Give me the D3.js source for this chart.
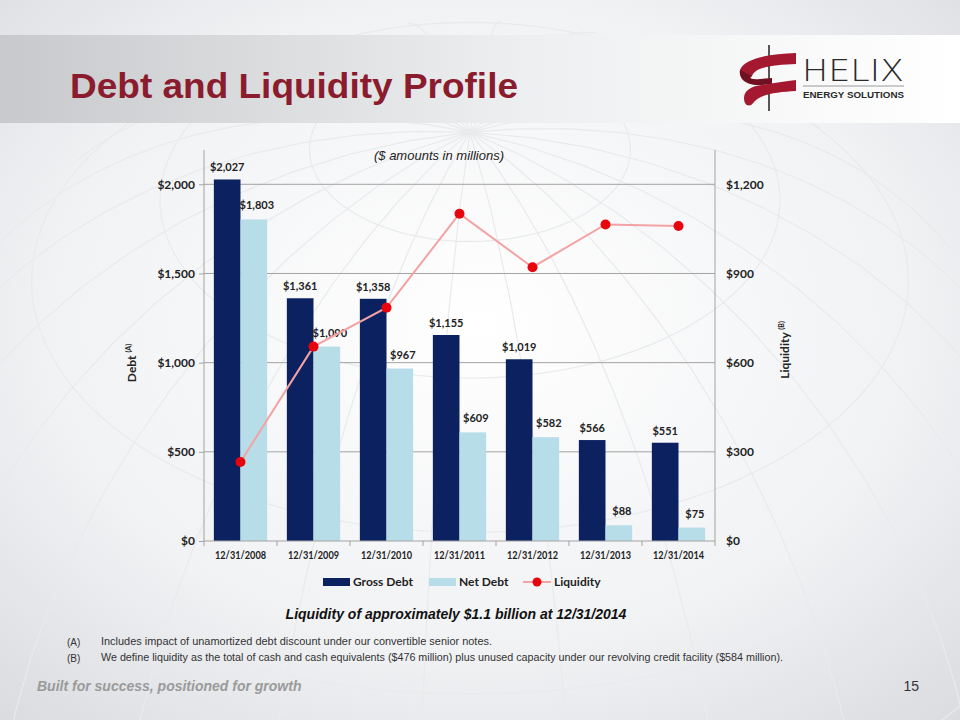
<!DOCTYPE html>
<html>
<head>
<meta charset="utf-8">
<title>Debt and Liquidity Profile</title>
<script src="https://cdn.jsdelivr.net/npm/d3@7"></script>
<style>
  body { margin: 0; background: #fff; }
  #chart { width: 960px; height: 720px; }
  .tick text { font-family: Lato, "Open Sans", sans-serif; font-weight: bold; font-size: 12px; fill: #222; }
  .barlabel { font-family: Lato, "Open Sans", sans-serif; font-weight: bold; font-size: 11px; fill: #222; }
</style>
</head>
<body>
<div id="chart"></div>
<script>
// chart data ($ millions)
var years = ["12/31/2008", "12/31/2009", "12/31/2010", "12/31/2011", "12/31/2012", "12/31/2013", "12/31/2014"];
var grossDebt = [2027, 1361, 1358, 1155, 1019, 566, 551];
var netDebt = [1803, 1090, 967, 609, 582, 88, 75];
var liquidity = [266, 654, 785, 1101, 921, 1065, 1060];
var debtTicks = [0, 500, 1000, 1500, 2000];
var liqTicks = [0, 300, 600, 900, 1200];
var seriesNames = ["Gross Debt", "Net Debt", "Liquidity"];

var W = 960, H = 720;
var svg = d3.select("#chart").append("svg").attr("width", W).attr("height", H);
var defs = svg.append("defs");

// background, faint globe
var bg = defs.append("radialGradient").attr("id", "bg").attr("cx", "50%").attr("cy", "45%").attr("r", "75%");
bg.append("stop").attr("offset", "0%").attr("stop-color", "#ffffff");
bg.append("stop").attr("offset", "60%").attr("stop-color", "#f1f2f4");
bg.append("stop").attr("offset", "100%").attr("stop-color", "#d9dbdf");
svg.append("rect").attr("width", W).attr("height", H).attr("fill", "url(#bg)");

var proj = d3.geoOrthographic().scale(620).translate([470, 640]).rotate([70, -35]);
var geoPath = d3.geoPath(proj);
svg.append("path").datum(d3.geoGraticule().step([15, 15])())
  .attr("d", geoPath).attr("fill", "none").attr("stroke", "#e9eaec").attr("stroke-width", 1.2);

// header banner
var band = defs.append("linearGradient").attr("id", "band");
band.append("stop").attr("offset", "0%").attr("stop-color", "#c8c9cc");
band.append("stop").attr("offset", "55%").attr("stop-color", "#eeeff0");
band.append("stop").attr("offset", "100%").attr("stop-color", "#ffffff");
svg.append("rect").attr("x", 0).attr("y", 35).attr("width", W).attr("height", 88).attr("fill", "url(#band)");

svg.append("text").attr("x", 70).attr("y", 98)
  .attr("font-family", "Liberation Sans, Arial, sans-serif").attr("font-weight", "bold")
  .attr("font-size", 35).attr("textLength", 448).attr("lengthAdjust", "spacingAndGlyphs")
  .attr("fill", "#8a1c2e").text("Debt and Liquidity Profile");

// logo
var logo = svg.append("g");
logo.append("line").attr("x1", 769).attr("y1", 45).attr("x2", 769).attr("y2", 111).attr("stroke", "#222").attr("stroke-width", 1.5);
// upper ribbon
logo.append("path").attr("d", "M740,70 C744,58 770,54 796,53 L796,64 C776,65 756,66 752,76 C748,80 742,78 740,70 Z").attr("fill", "#a4192f");
// curl to lower ribbon
logo.append("path").attr("d", "M740,70 C738,80 748,86 762,85 L772,84 L772,78 L760,79 C752,80 748,78 752,76 Z").attr("fill", "#6f1120");
// lower ribbon
logo.append("path").attr("d", "M762,85 C774,83 786,81 796,80 L796,91 C778,92 760,94 754,102 C750,108 744,106 744,98 C744,90 752,86 762,85 Z").attr("fill", "#a4192f");
logo.append("text").attr("x", 802).attr("y", 81)
  .attr("font-family", "DejaVu Sans, sans-serif").attr("font-weight", 200).attr("font-size", 30)
  .attr("textLength", 102).attr("lengthAdjust", "spacingAndGlyphs").attr("fill", "#2a2a2a").text("HELIX");
logo.append("line").attr("x1", 803).attr("y1", 86).attr("x2", 904).attr("y2", 86).attr("stroke", "#999").attr("stroke-width", 1.2);
logo.append("text").attr("x", 803).attr("y", 98)
  .attr("font-family", "Liberation Sans Narrow, Liberation Sans, sans-serif").attr("font-weight", "bold").attr("font-size", 9)
  .attr("textLength", 101).attr("lengthAdjust", "spacingAndGlyphs").attr("fill", "#2a2a2a").text("ENERGY SOLUTIONS");

// plot area
var x0 = 204, x1 = 715, yTop = 150, yBase = 541;
var x = d3.scaleBand().domain(years).range([x0, x1]).paddingInner(0.27).paddingOuter(0.135);
var xSub = d3.scaleBand().domain(["gross", "net"]).range([0, x.bandwidth()]);
var yL = d3.scaleLinear().domain([0, 2000]).range([yBase, 184.3]);
var yR = d3.scaleLinear().domain([0, 1200]).range([yBase, 184.3]);

// gridlines
svg.append("g").selectAll("line").data(debtTicks.slice(1)).join("line")
  .attr("x1", x0).attr("x2", x1).attr("y1", d => yL(d)).attr("y2", d => yL(d))
  .attr("stroke", "#a3a3a3").attr("stroke-width", 1);
svg.append("line").attr("x1", x0).attr("x2", x0).attr("y1", yTop).attr("y2", yBase).attr("stroke", "#a3a3a3");
svg.append("line").attr("x1", x1).attr("x2", x1).attr("y1", yTop).attr("y2", yBase).attr("stroke", "#a3a3a3");

// bars
var groups = svg.append("g").selectAll("g").data(years).join("g")
  .attr("transform", d => "translate(" + x(d) + ",0)");
groups.append("rect").attr("x", xSub("gross")).attr("width", xSub.bandwidth())
  .attr("y", (d, i) => yL(grossDebt[i])).attr("height", (d, i) => yBase - yL(grossDebt[i]))
  .attr("fill", "#0c2160");
groups.append("rect").attr("x", xSub("net")).attr("width", xSub.bandwidth())
  .attr("y", (d, i) => yL(netDebt[i])).attr("height", (d, i) => yBase - yL(netDebt[i]))
  .attr("fill", "#b6dde8");

var fmt = d3.format(",");
groups.append("text").attr("class", "barlabel").attr("text-anchor", "middle")
  .attr("x", xSub("gross") + xSub.bandwidth() / 2).attr("y", (d, i) => yL(grossDebt[i]) - 8)
  .text((d, i) => "$" + fmt(grossDebt[i]));
groups.append("text").attr("class", "barlabel").attr("text-anchor", "middle")
  .attr("x", xSub("net") + xSub.bandwidth() / 2 + 3).attr("y", (d, i) => yL(netDebt[i]) - 10)
  .text((d, i) => "$" + fmt(netDebt[i]));

// axes
var money = d => "$" + fmt(d);
var axL = svg.append("g").attr("transform", "translate(" + x0 + ",0)")
  .call(d3.axisLeft(yL).tickValues(debtTicks).tickFormat(money).tickSize(5).tickPadding(4));
var axR = svg.append("g").attr("transform", "translate(" + x1 + ",0)")
  .call(d3.axisRight(yR).tickValues(liqTicks).tickFormat(money).tickSize(5).tickPadding(6));
[axL, axR].forEach(function (a) {
  a.select(".domain").remove();
  a.selectAll(".tick line").attr("stroke", "#a3a3a3");
});
axR.selectAll(".tick line").attr("x2", 0);

var axB = svg.append("g").attr("transform", "translate(0," + yBase + ")")
  .call(d3.axisBottom(x).tickSize(0).tickPadding(9));
axB.select(".domain").attr("stroke", "#a3a3a3").attr("d", "M" + x0 + ",0H" + x1);
axB.selectAll(".tick text").attr("font-size", 11).attr("textLength", 51).attr("lengthAdjust", "spacingAndGlyphs");
svg.append("g").selectAll("line").data(d3.range(years.length + 1)).join("line")
  .attr("x1", i => x0 + i * (x1 - x0) / years.length).attr("x2", i => x0 + i * (x1 - x0) / years.length)
  .attr("y1", yBase).attr("y2", yBase + 5).attr("stroke", "#a3a3a3");

// liquidity line
var cx = d => x(d) + x.bandwidth() / 2;
svg.append("path").datum(years)
  .attr("d", d3.line().x(cx).y((d, i) => yR(liquidity[i])))
  .attr("fill", "none").attr("stroke", "#f3a3a3").attr("stroke-width", 2);
svg.append("g").selectAll("circle").data(years).join("circle")
  .attr("cx", cx).attr("cy", (d, i) => yR(liquidity[i])).attr("r", 5)
  .attr("fill", "#e8040c");

// axis titles
var axTitle = function (tx, ty, main, sup) {
  var t = svg.append("text").attr("transform", "translate(" + tx + "," + ty + ") rotate(-90)")
    .attr("text-anchor", "middle").attr("font-family", "Lato, 'Open Sans', sans-serif")
    .attr("font-weight", "bold").attr("font-size", 12).attr("fill", "#222");
  t.append("tspan").text(main + " ");
  t.append("tspan").attr("font-size", 7).attr("dy", -5).text(sup);
};
axTitle(136, 363, "Debt", "(A)");
axTitle(789, 350, "Liquidity", "(B)");

// subtitle
svg.append("text").attr("x", 439).attr("y", 160).attr("text-anchor", "middle")
  .attr("font-family", "Liberation Sans, Arial, sans-serif").attr("font-style", "italic")
  .attr("font-size", 13).attr("fill", "#222").text("($ amounts in millions)");

// legend
var leg = svg.append("g").attr("font-family", "Lato, 'Open Sans', sans-serif").attr("font-weight", "bold").attr("font-size", 12).attr("fill", "#222");
leg.append("rect").attr("x", 323).attr("y", 578).attr("width", 27).attr("height", 8).attr("fill", "#0c2160");
leg.append("text").attr("x", 353).attr("y", 586).text(seriesNames[0]);
leg.append("rect").attr("x", 429).attr("y", 578).attr("width", 27).attr("height", 8).attr("fill", "#b6dde8");
leg.append("text").attr("x", 459).attr("y", 586).text(seriesNames[1]);
leg.append("line").attr("x1", 523).attr("x2", 551).attr("y1", 582).attr("y2", 582).attr("stroke", "#f3a3a3").attr("stroke-width", 2);
leg.append("circle").attr("cx", 537).attr("cy", 582).attr("r", 4.5).attr("fill", "#e8040c");
leg.append("text").attr("x", 554).attr("y", 586).text(seriesNames[2]);

// callout
svg.append("text").attr("x", 456).attr("y", 619).attr("text-anchor", "middle")
  .attr("font-family", "Liberation Sans, Arial, sans-serif").attr("font-style", "italic").attr("font-weight", "bold")
  .attr("font-size", 14).attr("fill", "#111").text("Liquidity of approximately $1.1 billion at 12/31/2014");

// footnotes
var notes = [
  ["(A)", "Includes impact of unamortized debt discount under our convertible senior notes."],
  ["(B)", "We define liquidity as the total of cash and cash equivalents ($476 million) plus unused capacity under our revolving credit facility ($584 million)."]
];
var fn = svg.append("g").attr("font-family", "Liberation Sans Narrow, Liberation Sans, sans-serif").attr("font-size", 10).attr("fill", "#333");
notes.forEach(function (n, i) {
  fn.append("text").attr("x", 67).attr("y", 646 + i * 16).text(n[0]);
  var t = fn.append("text").attr("x", 101).attr("y", 645 + i * 16).text(n[1]);
  if (i == 0) t.attr("textLength", 391).attr("lengthAdjust", "spacingAndGlyphs");
  else t.attr("textLength", 682).attr("lengthAdjust", "spacingAndGlyphs");
});

svg.append("text").attr("x", 37).attr("y", 691)
  .attr("font-family", "Liberation Sans, Arial, sans-serif").attr("font-style", "italic").attr("font-weight", "bold")
  .attr("font-size", 14).attr("fill", "#9a9a9a").text("Built for success, positioned for growth");
svg.append("text").attr("x", 919).attr("y", 691).attr("text-anchor", "end")
  .attr("font-family", "Liberation Sans, Arial, sans-serif").attr("font-size", 14).attr("fill", "#333").text("15");
</script>
</body>
</html>
